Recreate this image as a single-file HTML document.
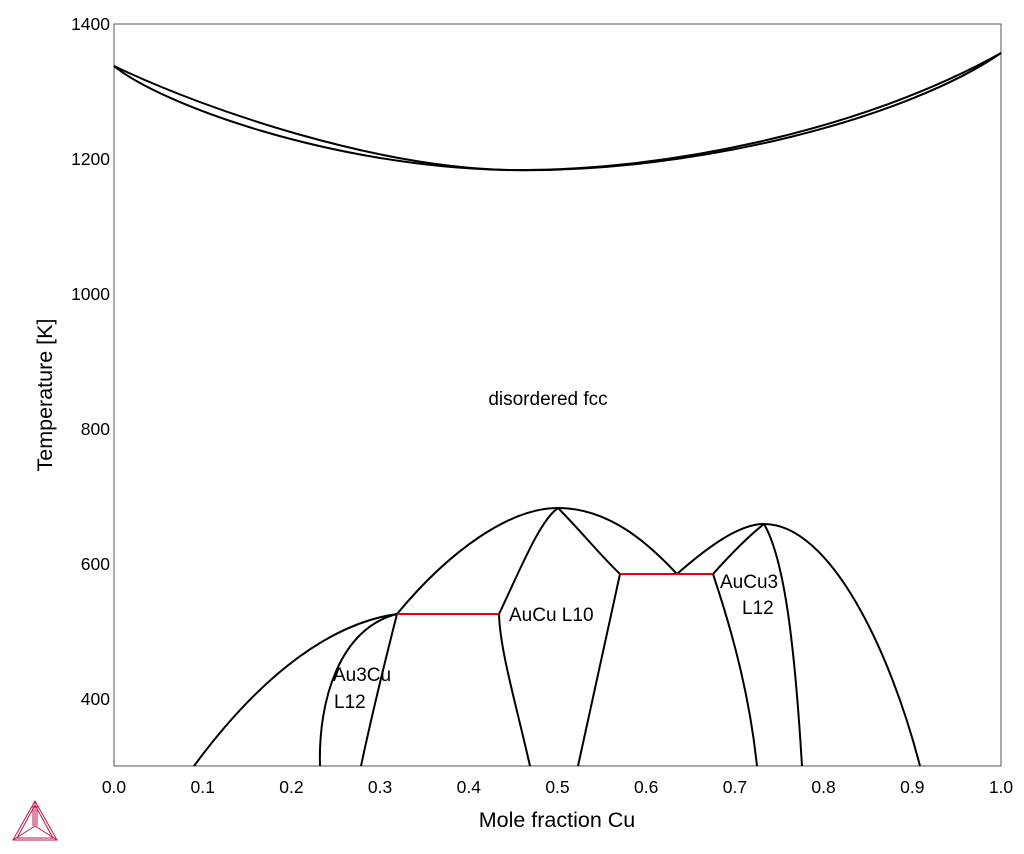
<!DOCTYPE html>
<html><head><meta charset="utf-8"><style>body{margin:0;background:#fff}svg{display:block}</style></head><body>
<svg width="1024" height="854" viewBox="0 0 1024 854" xmlns="http://www.w3.org/2000/svg" font-family="Liberation Sans, sans-serif">
<rect x="114" y="24" width="887" height="742" fill="none" stroke="#555" stroke-width="1"/>
<g font-size="17.5" text-anchor="middle" fill="#000">
<text x="114" y="793">0.0</text><text x="202.7" y="793">0.1</text><text x="291.4" y="793">0.2</text><text x="380.1" y="793">0.3</text><text x="468.8" y="793">0.4</text><text x="557.5" y="793">0.5</text><text x="646.2" y="793">0.6</text><text x="734.9" y="793">0.7</text><text x="823.6" y="793">0.8</text><text x="912.3" y="793">0.9</text><text x="1001" y="793">1.0</text>
</g>
<g font-size="17.5" text-anchor="end" fill="#000">
<text x="110" y="30">1400</text><text x="110" y="165">1200</text><text x="110" y="300">1000</text><text x="110" y="435">800</text><text x="110" y="570">600</text><text x="110" y="705">400</text>
</g>
<text x="557" y="827" font-size="21.5" text-anchor="middle">Mole fraction Cu</text>
<text transform="translate(52,395) rotate(-90)" font-size="21.5" text-anchor="middle">Temperature [K]</text>
<g fill="none" stroke="#000" stroke-width="2">
<path d="M114,66 C210,112 380,168 510,170 C660,172 860,132 1001,53"/>
<path d="M114,66 C160,104 330,166 505,170 C700,174 910,116 1001,53"/>
<path d="M194,766 C250,690 320,625 397,614"/>
<path d="M320,766 C318,700 340,628 397,614"/>
<path d="M361,766 C375,700 388,650 397,614"/>
<path d="M397,614 C450,550 510,508 558,508 C610,508 650,545 677,574"/>
<path d="M530,766 C515,700 500,650 499,614 C520,570 540,520 558,508"/>
<path d="M578,766 L620,574 C600,555 580,530 558,508"/>
<path d="M677,574 C710,545 740,524 764,524 C830,524 890,650 920,766"/>
<path d="M713,574 C730,555 750,535 764,524"/>
<path d="M713,574 C735,640 750,700 757,766"/>
<path d="M764,524 C785,560 795,650 802,766"/>
</g>
<g stroke="#e00" stroke-width="2"><line x1="397" y1="614" x2="499" y2="614"/><line x1="620" y1="574" x2="713" y2="574"/></g>
<g font-size="19" fill="#000">
<text x="548" y="405" text-anchor="middle">disordered fcc</text>
<text x="509" y="621">AuCu L10</text>
<text x="720" y="588">AuCu3</text><text x="742" y="614">L12</text>
<text x="333" y="681">Au3Cu</text><text x="334" y="708">L12</text>
</g>
<g fill="none" stroke="#c0144a" stroke-width="1">
<polygon points="35,801 13,840 57,840"/><polygon points="35,805 17,838 53,838"/>
<line x1="35" y1="801" x2="35" y2="826"/><line x1="35" y1="826" x2="13" y2="840"/><line x1="35" y1="826" x2="57" y2="840"/>
<line x1="33" y1="806" x2="33" y2="826"/><line x1="37" y1="806" x2="37" y2="826"/>
</g>
</svg>
</body></html>
